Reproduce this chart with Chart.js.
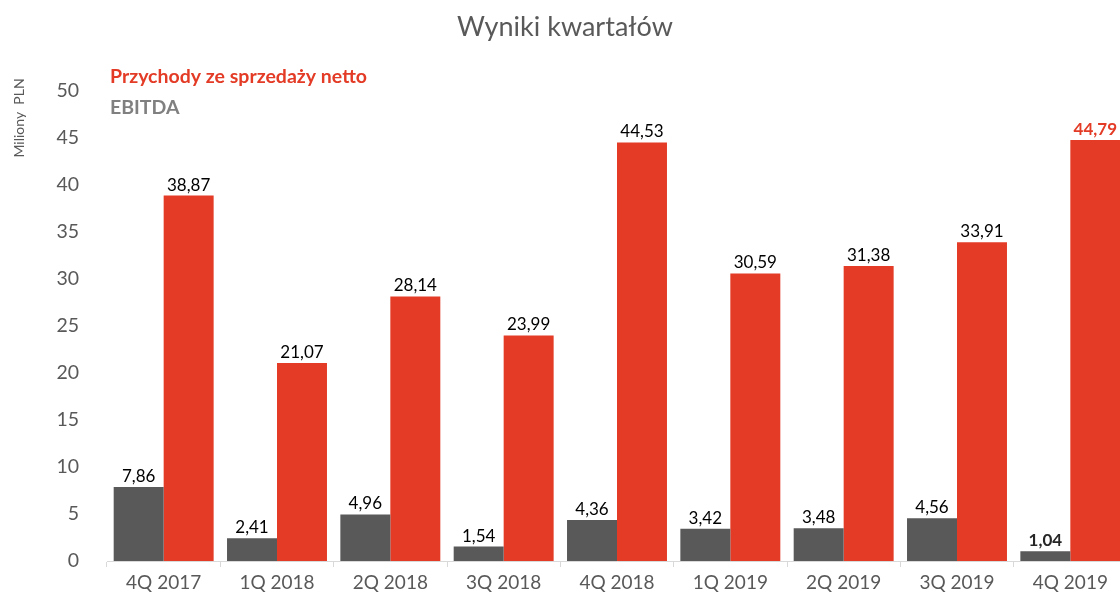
<!DOCTYPE html>
<html>
<head>
	<script src="https://cdn.jsdelivr.net/npm/chart.js@4/dist/chart.umd.min.js"></script>
	<style>
		html, body { margin: 0; padding: 0; overflow: hidden; background: #fff; }
		#wrapper { width: 1140px; height: 596px; }
	</style>
</head>
<body>
	<div id="wrapper"><canvas id="myChart" width="1140" height="596"></canvas></div>
	<script>
		var quarters = ["4Q 2017","1Q 2018","2Q 2018","3Q 2018","4Q 2018","1Q 2019","2Q 2019","3Q 2019","4Q 2019"];
		var ebitda = [7.86, 2.41, 4.96, 1.54, 4.36, 3.42, 3.48, 4.56, 1.04];
		var revenue = [38.87, 21.07, 28.14, 23.99, 44.53, 30.59, 31.38, 33.91, 44.79];
		var yTicks = [0, 5, 10, 15, 20, 25, 30, 35, 40, 45, 50];

		var RED = "#e33b26";
		var GREY = "#595959";
		var FONT = "Lato, 'Open Sans', sans-serif";

		function fmt(v){ return v.toFixed(2).replace('.', ','); }

		// title, legend text, axis label and value labels
		var textPlugin = {
			id: 'texts',
			afterDatasetsDraw: function(chart){
				var ctx = chart.ctx;
				ctx.save();
				ctx.fillStyle = GREY;
				ctx.font = "27px " + FONT;
				ctx.textAlign = 'center';
				ctx.textBaseline = 'middle';
				ctx.fillText("Wyniki kwartałów", 565, 27);

				ctx.textAlign = 'left';
				ctx.font = "bold 19.5px " + FONT;
				ctx.fillStyle = RED;
				ctx.fillText("Przychody ze sprzedaży netto", 110, 77);
				ctx.fillStyle = "#808080";
				ctx.fillText("EBITDA", 110, 108);

				ctx.save();
				ctx.translate(19, 118);
				ctx.rotate(-Math.PI/2);
				ctx.textAlign = 'center';
				ctx.fillStyle = GREY;
				ctx.font = "14px " + FONT;
				ctx.fillText("Miliony  PLN", 0, 0);
				ctx.restore();

				ctx.textAlign = 'center';
				ctx.textBaseline = 'bottom';
				chart.data.datasets.forEach(function(ds, di){
					var meta = chart.getDatasetMeta(di);
					meta.data.forEach(function(bar, i){
						var last = i == ds.data.length - 1;
						ctx.font = (last ? "bold " : "") + "17px " + FONT;
						ctx.fillStyle = (last && di == 1) ? RED : (last ? "#262626" : "#000");
						ctx.fillText(fmt(ds.data[i]), bar.x, bar.y - 2);
					});
				});
				ctx.restore();
			}
		};

		var ctx = document.getElementById("myChart");
		var myChart = new Chart(ctx, {
			type: 'bar',
			data: {
				labels: quarters,
				datasets: [
					{ label: "EBITDA", data: ebitda, backgroundColor: GREY },
					{ label: "Przychody ze sprzedaży netto", data: revenue, backgroundColor: RED }
				]
			},
			options: {
				responsive: false,
				animation: false,
				layout: { padding: { top: 91, right: 13, bottom: 0, left: 0 } },
				datasets: { bar: { categoryPercentage: 0.882, barPercentage: 1.0 } },
				plugins: {
					legend: { display: false },
					title: { display: false },
					tooltip: { enabled: false }
				},
				scales: {
					x: {
						afterFit: function(s){ s.height = 35; },
						grid: { offset: true, drawOnChartArea: false, drawTicks: true, tickLength: 6, color: "#d9d9d9" },
						border: { display: true, color: "#d9d9d9" },
						ticks: { color: GREY, font: { family: FONT, size: 19 }, padding: 4, maxRotation: 0 }
					},
					y: {
						min: 0, max: 50,
						afterFit: function(s){ s.width = 107; },
						afterBuildTicks: function(s){ s.ticks = yTicks.map(function(v){ return { value: v }; }); },
						grid: { display: false },
						border: { display: false },
						ticks: { color: GREY, font: { family: FONT, size: 19.5 }, padding: 20 }
					}
				}
			},
			plugins: [textPlugin]
		});
	</script>
</body>
</html>
